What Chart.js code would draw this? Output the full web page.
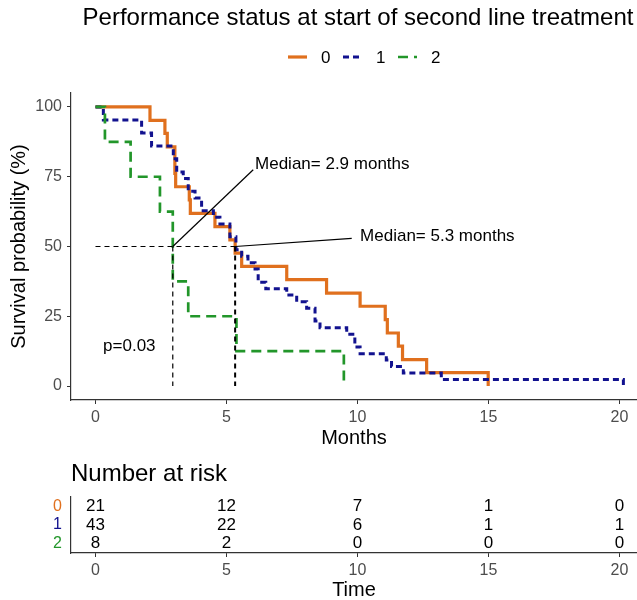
<!DOCTYPE html>
<html>
<head>
<meta charset="utf-8">
<script src="https://cdn.jsdelivr.net/npm/chart.js@4.4.1/dist/chart.umd.min.js"></script>
<style>
    body { margin: 0; background: #fff; }
    #contenedor { position: relative; width: 637px; height: 600px; }
    #km { position: absolute; left: 0; top: 0; }
    #riesgo { position: absolute; left: 0; top: 450px; }
</style>
</head>
<body>
<div id="contenedor">
    <canvas id="km" width="637" height="450"></canvas>
    <canvas id="riesgo" width="637" height="150"></canvas>
</div>
<script>
const titulo = 'Performance status at start of second line treatment';
const estratos = ['0', '1', '2'];
const colores = ['#E0701E', '#12128F', '#22962A'];

// curvas Kaplan-Meier (meses, % supervivencia)
const tiempos0 = [0, 2.08, 2.65, 2.74, 3.03, 3.06, 3.58, 3.62, 4.56, 5.13, 5.33, 5.58, 7.3, 8.82, 10.1, 11.06, 11.14, 11.56, 11.72, 12.64, 14.99];
const superv0 = [100, 95.2, 90.5, 85.7, 76.2, 71.4, 66.7, 61.9, 57.1, 52.4, 47.6, 42.9, 38.1, 33.3, 28.6, 23.8, 19.0, 14.3, 9.5, 4.8, 0];

const tiempos1 = [0, 0.3, 1.76, 2.14, 2.97, 3.1, 3.35, 3.54, 3.8, 4.05, 4.5, 4.75, 5.13, 5.36, 5.58, 5.82, 6.09, 6.21, 6.5, 7.3, 7.68, 8.06, 8.38, 8.57, 9.59, 9.9, 10.1, 11.1, 11.3, 11.75, 13.2, 20.15];
const superv1 = [100, 95.3, 90.7, 86.0, 81.4, 76.7, 74.4, 69.8, 67.4, 62.8, 60.5, 58.1, 53.5, 48.8, 46.5, 44.2, 41.9, 37.2, 34.9, 32.6, 30.2, 27.9, 23.3, 20.9, 18.6, 14.0, 11.6, 9.3, 7.0, 4.65, 2.33, 0];

const tiempos2 = [0, 0.36, 1.34, 2.46, 2.95, 3.54, 5.38, 9.48];
const superv2 = [100, 87.5, 75, 62.5, 37.5, 25, 12.5, 0];

// medianas
const medianas = [2.95, 5.33];
const notas = [
    { texto: 'Median= 2.9 months', x: 6.09, y: 79.6, desdeX: 2.95, hastaX: 6.02, hastaY: 77.5 },
    { texto: 'Median= 5.3 months', x: 10.1, y: 53.5, desdeX: 5.33, hastaX: 9.78, hastaY: 52.9 }
];
const pValor = { texto: 'p=0.03', x: 0.29, y: 14.1 };

// tabla de riesgo
const tiemposRiesgo = [0, 5, 10, 15, 20];
const riesgo0 = [21, 12, 7, 1, 0];
const riesgo1 = [43, 22, 6, 1, 1];
const riesgo2 = [8, 2, 0, 0, 0];

const ticksX = [0, 5, 10, 15, 20];
const ticksY = [0, 25, 50, 75, 100];

const fuente = '"Liberation Sans", Arial, sans-serif';
const xMin = -0.935;
const xMax = 20.67;

const puntos = (t, s) => t.map((x, i) => ({ x: x, y: s[i] }));

const curvas = [
    { label: '0', data: puntos(tiempos0, superv0), borderColor: colores[0], borderWidth: 3.2, borderDash: [], order: 3 },
    { label: '1', data: puntos(tiempos1, superv1), borderColor: colores[1], borderWidth: 3, borderDash: [6, 4], order: 2 },
    { label: '2', data: puntos(tiempos2, superv2), borderColor: colores[2], borderWidth: 2.7, borderDash: [10, 6], order: 1 }
].map(c => ({ ...c, stepped: true, pointRadius: 0, fill: false }));

const lineasMediana = [
    { data: [{ x: 0, y: 50 }, { x: medianas[1], y: 50 }], borderWidth: 1.2, borderDash: [5, 4] },
    { data: [{ x: medianas[0], y: 50 }, { x: medianas[0], y: 0 }], borderWidth: 1.2, borderDash: [5, 4] },
    { data: [{ x: medianas[1], y: 50 }, { x: medianas[1], y: 0 }], borderWidth: 2, borderDash: [5, 4] }
].concat(notas.map(n => ({
    data: [{ x: n.desdeX, y: 50 }, { x: n.hastaX, y: n.hastaY }], borderWidth: 1.2, borderDash: []
}))).map(l => ({ ...l, label: '', borderColor: '#000', pointRadius: 0, fill: false, order: 0 }));

const textosKM = {
    id: 'textosKM',
    afterDraw(chart) {
        const ctx = chart.ctx;
        const x = chart.scales.x;
        const y = chart.scales.y;
        const area = chart.chartArea;
        ctx.save();
        ctx.fillStyle = '#000';
        ctx.textBaseline = 'middle';

        ctx.font = '24px ' + fuente;
        ctx.textAlign = 'center';
        ctx.fillText(titulo, 358, 18);

        // leyenda
        const leyendaX = [288, 343, 398];
        ctx.font = '17px ' + fuente;
        ctx.textAlign = 'left';
        curvas.forEach((c, i) => {
            ctx.save();
            ctx.strokeStyle = c.borderColor;
            ctx.lineWidth = c.borderWidth;
            ctx.setLineDash(c.borderDash);
            ctx.beginPath();
            ctx.moveTo(leyendaX[i], 57);
            ctx.lineTo(leyendaX[i] + 19, 57);
            ctx.stroke();
            ctx.restore();
            ctx.fillText(c.label, leyendaX[i] + 33, 58);
        });

        // titulos de ejes
        ctx.font = '20px ' + fuente;
        ctx.textAlign = 'center';
        ctx.fillText('Months', (area.left + area.right) / 2, 438);
        ctx.save();
        ctx.translate(19, (area.top + area.bottom) / 2);
        ctx.rotate(-Math.PI / 2);
        ctx.fillText('Survival probability (%)', 0, 0);
        ctx.restore();

        // anotaciones
        ctx.font = '17px ' + fuente;
        ctx.textAlign = 'left';
        notas.forEach(n => ctx.fillText(n.texto, x.getPixelForValue(n.x), y.getPixelForValue(n.y)));
        ctx.fillText(pValor.texto, x.getPixelForValue(pValor.x), y.getPixelForValue(pValor.y));
        ctx.restore();
    }
};

new Chart(document.getElementById('km'), {
    type: 'line',
    data: { datasets: curvas.concat(lineasMediana) },
    options: {
        responsive: false,
        animation: false,
        layout: { padding: { top: 93, left: 0, right: 0, bottom: 0 } },
        plugins: { legend: { display: false }, tooltip: { enabled: false } },
        scales: {
            x: {
                type: 'linear',
                min: xMin,
                max: xMax,
                afterBuildTicks: s => { s.ticks = ticksX.map(v => ({ value: v })); },
                afterFit: s => { s.height = 50; },
                grid: { drawOnChartArea: false, tickLength: 4, tickColor: '#333' },
                border: { color: '#333', width: 1.2 },
                ticks: { font: { family: fuente, size: 16 }, color: '#4d4d4d', padding: 4, maxRotation: 0 }
            },
            y: {
                min: -5,
                max: 105,
                afterBuildTicks: s => { s.ticks = ticksY.map(v => ({ value: v })); },
                afterFit: s => { s.width = 71; },
                grid: { drawOnChartArea: false, tickLength: 4, tickColor: '#333' },
                border: { color: '#333', width: 1.2 },
                ticks: { font: { family: fuente, size: 16 }, color: '#4d4d4d', padding: 5 }
            }
        }
    },
    plugins: [textosKM]
});

const textosRiesgo = {
    id: 'textosRiesgo',
    afterDraw(chart) {
        const ctx = chart.ctx;
        const area = chart.chartArea;
        ctx.save();
        ctx.fillStyle = '#000';
        ctx.textBaseline = 'middle';
        ctx.textAlign = 'center';
        ctx.font = '17px ' + fuente;
        chart.data.datasets.forEach((ds, i) => {
            chart.getDatasetMeta(i).data.forEach((p, j) => ctx.fillText(String(ds.riesgo[j]), p.x, p.y));
        });
        ctx.font = '20px ' + fuente;
        ctx.fillText('Time', (area.left + area.right) / 2, 140);
        ctx.textAlign = 'left';
        ctx.font = '24px ' + fuente;
        ctx.fillText('Number at risk', 71, 24);
        ctx.restore();
    }
};

const filasRiesgo = [riesgo0, riesgo1, riesgo2];

new Chart(document.getElementById('riesgo'), {
    type: 'scatter',
    data: {
        datasets: filasRiesgo.map((r, i) => ({
            label: estratos[i],
            riesgo: r,
            data: tiemposRiesgo.map(t => ({ x: t, y: estratos[i] })),
            pointRadius: 0
        }))
    },
    options: {
        responsive: false,
        animation: false,
        layout: { padding: { top: 47, left: 0, right: 0, bottom: 0 } },
        plugins: { legend: { display: false }, tooltip: { enabled: false } },
        scales: {
            x: {
                type: 'linear',
                min: xMin,
                max: xMax,
                afterBuildTicks: s => { s.ticks = ticksX.map(v => ({ value: v })); },
                afterFit: s => { s.height = 47; },
                grid: { drawOnChartArea: false, tickLength: 4, tickColor: '#333' },
                border: { color: '#333', width: 1.2 },
                ticks: { font: { family: fuente, size: 16 }, color: '#4d4d4d', padding: 4, maxRotation: 0 }
            },
            y: {
                type: 'category',
                labels: estratos,
                offset: true,
                afterFit: s => { s.width = 71; },
                grid: { drawOnChartArea: false, drawTicks: false },
                border: { color: '#333', width: 1.2 },
                ticks: {
                    autoSkip: false,
                    font: { family: fuente, size: 16 },
                    color: c => colores[c.index],
                    padding: 9
                }
            }
        }
    },
    plugins: [textosRiesgo]
});
</script>
</body>
</html>
